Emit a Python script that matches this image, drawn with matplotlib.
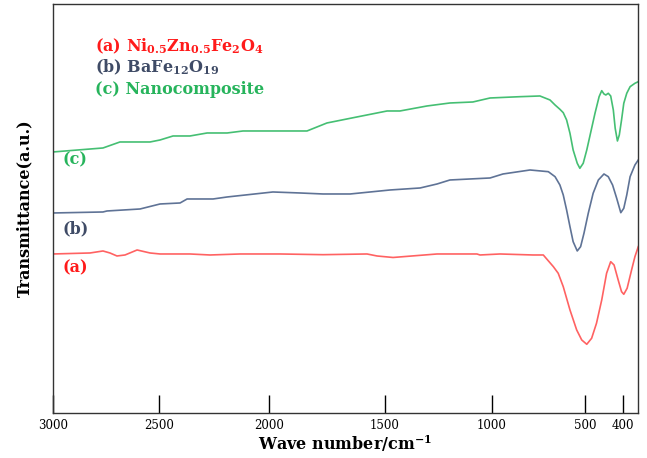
import numpy as np
import matplotlib
matplotlib.use("Agg")
import matplotlib.pyplot as plt

plt.rcParams['font.family'] = ['DejaVu Serif']
plt.rcParams['mathtext.fontset'] = 'dejavuserif'

# wavenumber axis is not linear in the original: anchor ticks to their positions
axis_wn = [358, 400, 500, 1000, 1500, 2000, 2500, 3000]
axis_pos = [0.0, 15.6, 53.0, 146.3, 253.6, 369.6, 479.6, 585.6]

# (a) Ni0.5Zn0.5Fe2O4
wn_a = [3000, 2824, 2763, 2730, 2697, 2659, 2602, 2541, 2494, 2358, 2267, 2130,
        1951, 1766, 1576, 1533, 1461, 1256, 1070, 1056, 957, 780, 725, 671, 645,
        618, 582, 546, 519, 496, 483, 470, 456, 443, 432, 423, 412, 403, 397,
        388, 376, 367, 358]
t_a = [159, 160, 162, 160, 157, 158, 163, 160, 159, 159, 158, 159,
       159, 158.3, 159, 157, 155.5, 159, 159, 158, 159, 158, 158, 146.3, 139.7,
       126.3, 103, 83, 73, 68.7, 74.7, 89.7, 113, 139.7, 151.3, 148, 133, 121.3, 118.7,
       124.7, 143, 156.3, 166.3]

# (b) BaFe12O19
wn_b = [3000, 2763, 2744, 2588, 2494, 2403, 2371, 2253, 2189, 1982, 1865, 1766,
        1649, 1475, 1335, 1256, 1196, 1009, 941, 796, 698, 662, 636, 618, 600,
        582, 565, 543, 525, 507, 492, 479, 465, 450, 438.5, 427, 416, 405, 397,
        389, 380, 367, 358]
t_b = [200, 201, 202, 204, 209, 210, 214, 214, 216, 221, 220, 219,
       219, 223, 225, 229, 233, 235, 239, 243, 241.3, 236.3, 228, 218, 203,
       186.3, 171.3, 162, 166.3, 179.7, 199.7, 219.7, 233, 239, 236.3, 228, 214.7, 200.3, 204.7,
       218, 236.3, 248, 253]

# (c) Nanocomposite
wn_c = [3000, 2763, 2683, 2541, 2494, 2435, 2358, 2280, 2189, 2117, 1982, 1835,
        1749, 1620, 1489, 1429, 1303, 1196, 1089, 1009, 850, 743, 689, 662, 636,
        618, 600, 582, 565, 543, 529, 511, 496, 486, 474, 463, 456, 450, 445,
        438.5, 432, 425, 420, 414, 409, 403, 397, 389, 380, 367, 358]
t_c = [261, 265, 271, 271, 273, 277, 277, 280, 280, 282, 282, 282,
       290, 296, 302, 302, 307, 310, 311, 315, 316.3, 317, 313, 308, 303.7,
       300.3, 293, 279.7, 263, 249.7, 244.7, 249.7, 263, 279.7, 299.7, 316.3, 322.3, 319, 318,
       319.7, 317, 303, 284.7, 272, 278, 293, 309.7, 319.7, 326.3, 329.7, 331.3]

tick_wn = [3000, 2500, 2000, 1500, 1000, 500, 400]


def forward(x):
    return np.interp(x, axis_wn, axis_pos)


def inverse(p):
    return np.interp(p, axis_pos, axis_wn)


fig = plt.figure(figsize=(6.47, 4.58), dpi=100)
ax = fig.add_axes([0.0815, 0.0983, 0.905, 0.893])
ax.set_xscale('function', functions=(forward, inverse))

ax.plot(wn_a, t_a, color='#ff6262', lw=1.2)
ax.plot(wn_b, t_b, color='#5f7396', lw=1.2)
ax.plot(wn_c, t_c, color='#45bf73', lw=1.2)

ax.set_xlim(3000, 358)
ax.set_ylim(0, 409)
ax.set_xticks(tick_wn)
ax.set_xticklabels([str(t) for t in tick_wn])
ax.set_yticks([])
ax.tick_params(axis='x', direction='in', length=13, width=1, labelsize=8.5, pad=4)
for s in ax.spines.values():
    s.set_linewidth(1.0)
    s.set_color('#333333')

ax.set_xlabel('Wave number/cm$^{\\mathbf{-1}}$', fontsize=11.5, fontweight='bold', labelpad=1)
ax.set_ylabel('Transmittance(a.u.)', fontsize=11.5, fontweight='bold', labelpad=14)

ax.text(0.072, 0.897, r'(a) Ni$_{\mathbf{0.5}}$Zn$_{\mathbf{0.5}}$Fe$_{\mathbf{2}}$O$_{\mathbf{4}}$',
        transform=ax.transAxes, color='#ff1a1a', fontsize=11.5, fontweight='bold', va='center')
ax.text(0.072, 0.844, r'(b) BaFe$_{\mathbf{12}}$O$_{\mathbf{19}}$',
        transform=ax.transAxes, color='#3f4b66', fontsize=11.5, fontweight='bold', va='center')
ax.text(0.072, 0.792, '(c) Nanocomposite',
        transform=ax.transAxes, color='#27b45c', fontsize=11.5, fontweight='bold', va='center')

ax.text(0.016, 0.619, '(c)', transform=ax.transAxes, color='#27b45c',
        fontsize=11.5, fontweight='bold', va='center')
ax.text(0.016, 0.45, '(b)', transform=ax.transAxes, color='#3f4b66',
        fontsize=11.5, fontweight='bold', va='center')
ax.text(0.016, 0.355, '(a)', transform=ax.transAxes, color='#ff1a1a',
        fontsize=11.5, fontweight='bold', va='center')

fig.savefig('out.png', dpi=100)
